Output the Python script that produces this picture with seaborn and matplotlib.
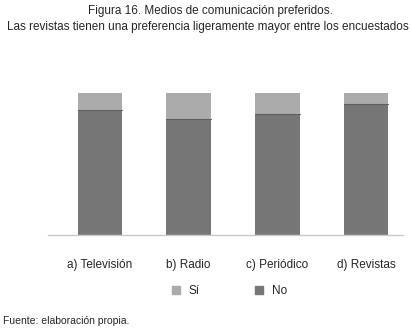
import numpy as np
import pandas as pd
import matplotlib
matplotlib.use("Agg")
import matplotlib.pyplot as plt
import seaborn as sns
from matplotlib.patches import Patch

# values (percent)
medios = ['a) Televisión', 'b) Radio', 'c) Periódico', 'd) Revistas']
si_vals = [12, 18, 15, 8]
no_vals = [88, 82, 85, 92]

sns.set_style("white")
plt.rcParams['font.family'] = ['Liberation Sans Narrow', 'Liberation Sans', 'DejaVu Sans']

df = pd.DataFrame({'medio': medios, 'Sí': si_vals, 'No': no_vals})
df['total'] = df['Sí'] + df['No']

fig = plt.figure(figsize=(4.12, 3.29), dpi=100)
ax = fig.add_axes([48/412, 1-235/329, (403-48)/412, (235-93)/329])

# stacked: draw total with the Sí colour, then No over it
sns.barplot(df, x='medio', y='total', color='#ababab', saturation=1,
            width=0.5, ax=ax, edgecolor='none')
sns.barplot(df, x='medio', y='No', color='#767676', saturation=1,
            width=0.5, ax=ax, edgecolor='none')

# thin darker line where the two parts meet
for i, v in enumerate(df['No']):
    ax.plot([i-0.25, i+0.25], [v, v], color='#5e5e5e', lw=0.8)

ax.set_ylim(0, 100)
ax.set_xlim(-0.584, 3.416)
ax.set_xlabel('')
ax.set_ylabel('')
ax.set_yticks([])
ax.tick_params(axis='x', length=0, pad=17, labelsize=8.5)
for s in ['top', 'right', 'left']:
    ax.spines[s].set_visible(False)
ax.spines['bottom'].set_color('#c8c8c8')
ax.spines['bottom'].set_linewidth(1)

fig.text(0.51, 1-11/329, 'Figura 16. Medios de comunicación preferidos.',
         ha='center', va='center', fontsize=8.5)
fig.text(0.505, 1-27/329,
         'Las revistas tienen una preferencia ligeramente mayor entre los encuestados',
         ha='center', va='center', fontsize=8.5)

handles = [Patch(color='#ababab', label='Sí'), Patch(color='#767676', label='No')]
fig.legend(handles=handles, loc='center', bbox_to_anchor=(0.557, 1-291/329),
           ncol=2, frameon=False, fontsize=8.5, handlelength=0.7,
           handleheight=0.7, columnspacing=4.7, handletextpad=0.7,
           borderpad=0, borderaxespad=0)

fig.text(3/412, 1-321/329, 'Fuente: elaboración propia.', ha='left',
         va='center', fontsize=7.5)

plt.savefig('out.png', dpi=100)
plt.close()
